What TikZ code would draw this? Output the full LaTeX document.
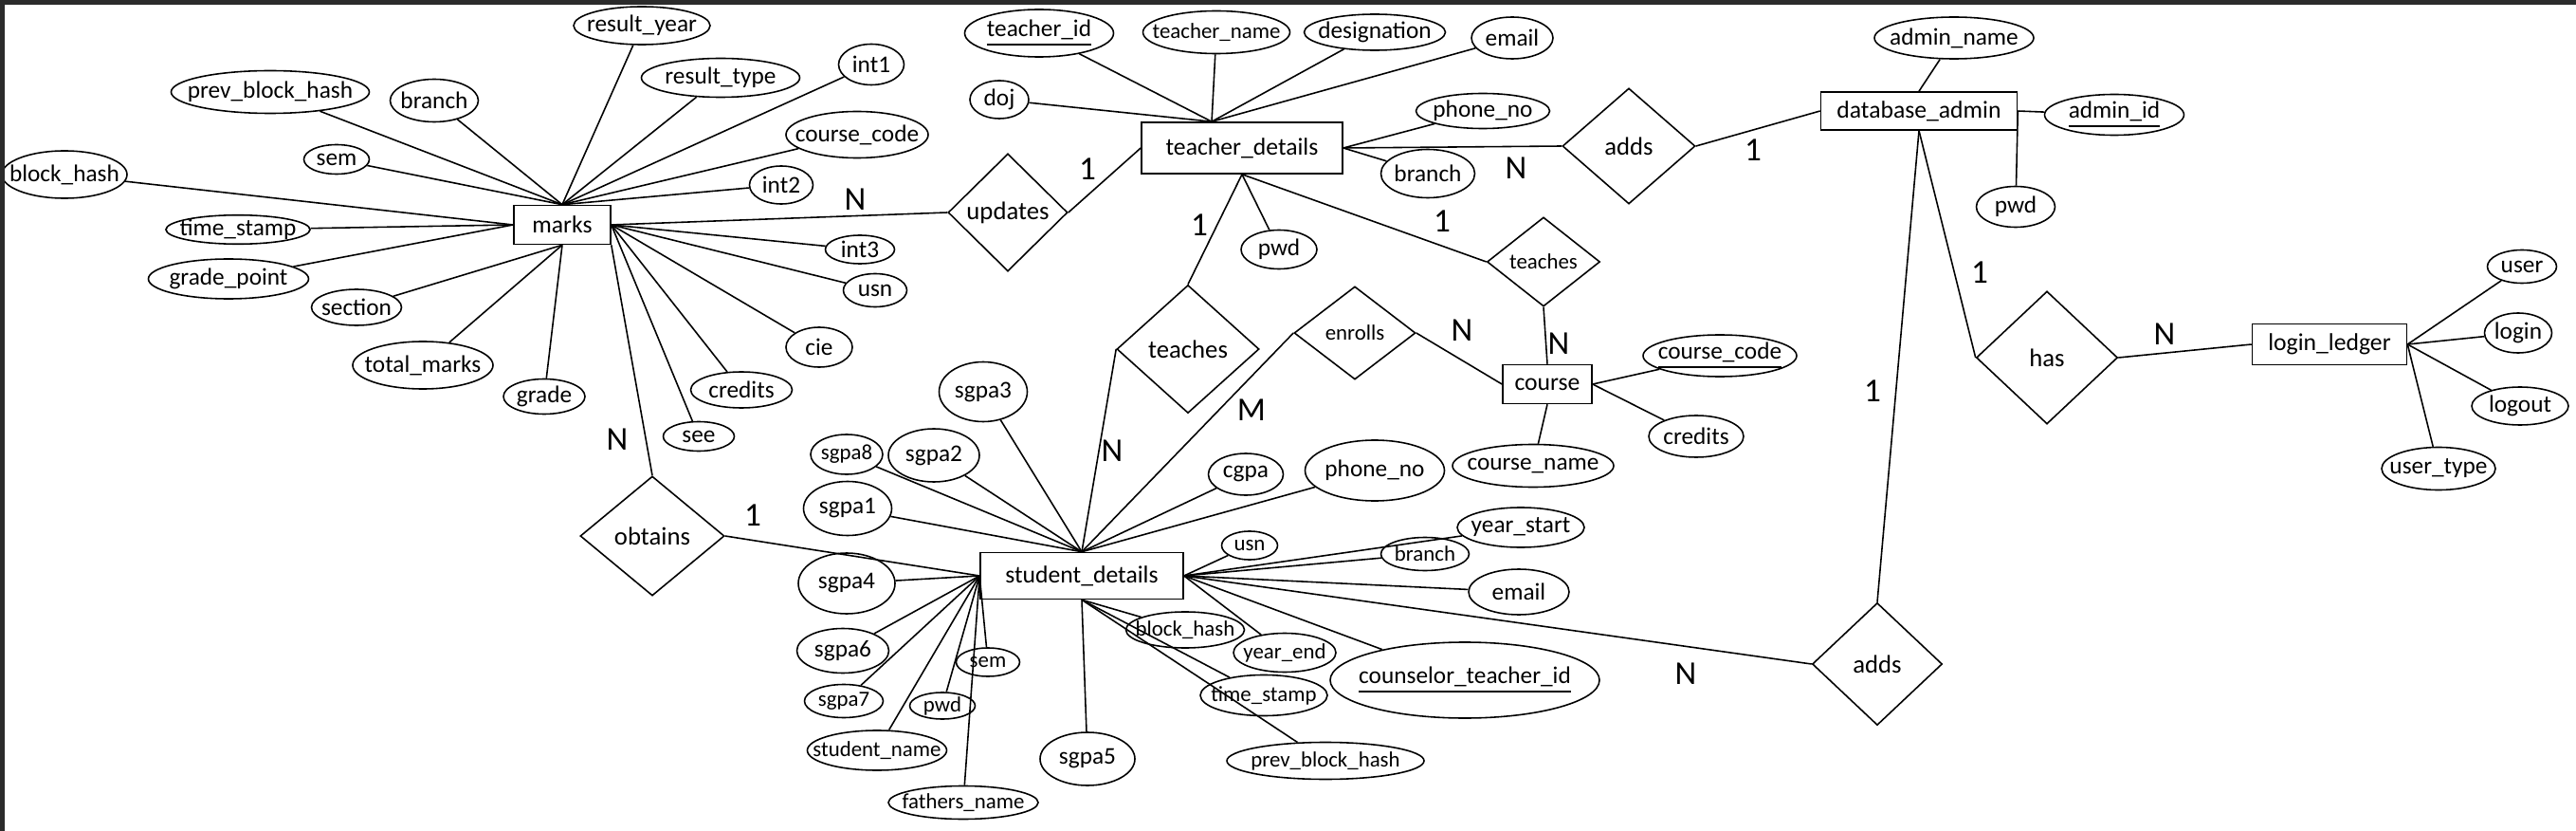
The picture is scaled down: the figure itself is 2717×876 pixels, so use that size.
\documentclass[tikz,border=0pt]{standalone}
\usepackage{fontspec}
\setmainfont{Carlito}
\usetikzlibrary{shapes.geometric}
\tikzset{%
   % entity box, attribute oval, relationship diamond
   ent/.style={
      draw,
      rectangle,
      inner sep=0pt,
      font=\fontsize{7.3}{8}\selectfont
   },
   % the oval keeps its given size, the text may run to its edge
   attr/.style={
      draw,
      ellipse,
      inner sep=0pt,
      font=\fontsize{7.2}{8}\selectfont,
      execute at begin node={\setbox0=\hbox\bgroup},
      execute at end node={\egroup\hbox to 0pt{\hss\box0\hss}}
   },
   rel/.style={
      draw,
      diamond,
      inner sep=0pt,
      font=\fontsize{7.6}{8}\selectfont
   },
   smalltxt/.style={
      font=\fontsize{6.5}{7}\selectfont
   },
   card/.style={
      inner sep=0pt,
      font=\fontsize{10}{12}\selectfont
   },
   sz/.style 2 args={
      minimum width=#1*.01cm,
      minimum height=#2*.01cm
   },
}

\begin{document}
\begin{tikzpicture}[x=.01cm, y=-.01cm, line width=.45pt]
   \useasboundingbox (0,0) rectangle (2717,876);

   % marks
   \node[ent, sz={102}{41}] (mk) at (593,237) {marks};
   \node[attr, sz={144}{40}] (mry) at (677,27) {result\_year};
   \node[attr, sz={209}{45}] (mpbh) at (285,97) {prev\_block\_hash};
   \node[attr, sz={93}{45}] (mbr) at (458,106) {branch};
   \node[attr, sz={167}{41}] (mrt) at (760,82) {result\_type};
   \node[attr, sz={69}{43}] (mi1) at (919,68) {int1};
   \node[attr, sz={150}{49}] (mcc) at (904,142) {course\_code};
   \node[attr, sz={69}{31}] (msem) at (355,168) {sem};
   \node[attr, sz={132}{50}] (mbh) at (68,184) {block\_hash};
   \node[attr, sz={67}{40}] (mi2) at (824,195) {int2};
   \node[attr, sz={152}{30}] (mts) at (251,242) {time\_stamp};
   \node[attr, sz={169}{42}] (mgp) at (241,294) {grade\_point};
   \node[attr, sz={73}{30}] (mi3) at (907,263) {int3};
   \node[attr, sz={95}{38}] (msec) at (376,324) {section};
   \node[attr, sz={67}{35}] (musn) at (923,306) {usn};
   \node[attr, sz={70}{42}] (mcie) at (864,366) {cie};
   \node[attr, sz={148}{50}] (mtm) at (446,385) {total\_marks};
   \node[attr, sz={86}{37}] (mgr) at (574,418) {grade};
   \node[attr, sz={107}{38}] (mcr) at (782,411) {credits};
   \node[attr, sz={75}{31}] (msee) at (737,460) {see};

   % relationships
   \node[rel, sz={126}{124}] (upd) at (1063,224) {updates};
   \node[rel, sz={152}{126}] (obt) at (688,565) {obtains};
   \node[rel, sz={140}{122}] (addt) at (1718,154) {adds};
   \node[rel, sz={150}{135}] (tchl) at (1253,368) {teaches};
   \node[rel, smalltxt, sz={119}{94}] (tchr) at (1628,276) {teaches};
   \node[rel, smalltxt, sz={128}{98}] (enr) at (1429,351) {enrolls};
   \node[rel, sz={149}{140}] (has) at (2159,377) {has};
   \node[rel, sz={137}{129}] (addb) at (1980,700) {adds};

   % teacher_details
   \node[ent, sz={212}{54}] (td) at (1310,156) {teacher\_details};
   \node[attr, sz={157}{50}] (tid) at (1096,35) {\underline{teacher\_id}};
   \node[attr, smalltxt, sz={155}{45}] (tnm) at (1283,34) {teacher\_name};
   \node[attr, sz={149}{38}] (tdes) at (1450,34) {designation};
   \node[attr, sz={86}{44}] (tem) at (1595,40) {email};
   \node[attr, sz={62}{40}] (tdoj) at (1054,105) {doj};
   \node[attr, sz={141}{37}] (tph) at (1564,117) {phone\_no};
   \node[attr, sz={99}{51}] (tbr) at (1506,183) {branch};
   \node[attr, sz={80}{41}] (tpwd) at (1349,263) {pwd};

   % database_admin
   \node[ent, sz={207}{40}] (da) at (2024,117) {database\_admin};
   \node[attr, sz={168}{44}] (anm) at (2061,40) {admin\_name};
   \node[attr, sz={147}{43}] (aid) at (2230,121) {\underline{admin\_id}};
   \node[attr, sz={83}{43}] (apwd) at (2126,218) {pwd};

   % login_ledger
   \node[ent, sz={163}{43}] (ll) at (2457,363) {login\_ledger};
   \node[attr, sz={73}{35}] (lu) at (2660,281) {user};
   \node[attr, sz={71}{42}] (lin) at (2656,351) {login};
   \node[attr, sz={102}{40}] (lout) at (2658,428) {logout};
   \node[attr, sz={120}{45}] (lut) at (2572,494) {user\_type};

   % course
   \node[ent, sz={94}{41}] (co) at (1632,405) {course};
   \node[attr, sz={162}{44}] (ccc) at (1814,375) {\underline{course\_code}};
   \node[attr, sz={100}{44}] (ccr) at (1789,460) {credits};
   \node[attr, sz={170}{45}] (cnm) at (1617,491) {course\_name};

   % student_details
   \node[ent, sz={214}{49}] (sd) at (1141,607) {student\_details};
   \node[attr, sz={93}{63}] (s3) at (1037,413) {sgpa3};
   \node[attr, sz={96}{56}] (s2) at (985,480) {sgpa2};
   \node[attr, smalltxt, sz={76}{42}] (s8) at (893,479) {sgpa8};
   \node[attr, sz={93}{57}] (s1) at (894,536) {sgpa1};
   \node[attr, sz={102}{64}] (s4) at (893,615) {sgpa4};
   \node[attr, sz={97}{47}] (s6) at (889,686) {sgpa6};
   \node[attr, smalltxt, sz={83}{35}] (s7) at (890,739) {sgpa7};
   \node[attr, smalltxt, sz={147}{42}] (snm) at (925,791) {student\_name};
   \node[attr, smalltxt, sz={158}{35}] (sfn) at (1016,846) {fathers\_name};
   \node[attr, smalltxt, sz={69}{28}] (spwd) at (994,744) {pwd};
   \node[attr, smalltxt, sz={67}{30}] (ssem) at (1042,698) {sem};
   \node[attr, sz={100}{56}] (s5) at (1147,800) {sgpa5};
   \node[attr, smalltxt, sz={125}{38}] (sbh) at (1250,664) {block\_hash};
   \node[attr, smalltxt, sz={108}{41}] (sye) at (1355,688) {year\_end};
   \node[attr, smalltxt, sz={134}{43}] (sts) at (1333,733) {time\_stamp};
   \node[attr, smalltxt, sz={208}{39}] (spbh) at (1398,802) {prev\_block\_hash};
   \node[attr, sz={284}{80}] (sct) at (1545,717) {\underline{counselor\_teacher\_id}};
   \node[attr, sz={106}{48}] (sem) at (1602,624) {email};
   \node[attr, smalltxt, sz={93}{35}] (sbr) at (1503,584) {branch};
   \node[attr, sz={134}{42}] (sys) at (1604,556) {year\_start};
   \node[attr, smalltxt, sz={59}{30}] (susn) at (1318,575) {usn};
   \node[attr, sz={79}{44}] (scg) at (1314,500) {cgpa};
   \node[attr, sz={147}{64}] (sph) at (1450,496) {phone\_no};

   % attribute lines
   \foreach \a in {mry,mpbh,mbr,mrt,mi1,mcc,msem,mi2}
      \draw (\a) -- (mk.north);
   \foreach \a in {mbh,mts,mgp}
      \draw (\a) -- (mk.west);
   \foreach \a in {msec,mtm,mgr}
      \draw (\a) -- (mk.south);
   \foreach \a in {mi3,musn,mcie,mcr,msee}
      \draw (\a) -- (mk.east);
   \foreach \a in {tid,tnm,tdes,tem,tdoj}
      \draw (\a) -- (td.139);
   \foreach \a in {tph,tbr}
      \draw (\a) -- (td.east);
   \draw (tpwd) -- (td.south);
   \draw (anm) -- (da.north);
   \foreach \a in {aid,apwd}
      \draw (\a) -- (da.east);
   \foreach \a in {lu,lin,lout,lut}
      \draw (\a) -- (ll.east);
   \foreach \a in {ccc,ccr}
      \draw (\a) -- (co.east);
   \draw (cnm) -- (co.south);
   \foreach \a in {s3,s2,s8,s1,scg,sph}
      \draw (\a) -- (sd.north);
   \foreach \a in {s4,s6,s7,snm,sfn,spwd,ssem}
      \draw (\a) -- (sd.west);
   \foreach \a in {s5,sbh,sts,spbh}
      \draw (\a) -- (sd.south);
   \foreach \a in {sye,sct,sem,sbr,sys,susn}
      \draw (\a) -- (sd.east);

   % relationship lines
   \draw (mk.east) -- (upd.west);
   \draw (upd.east) -- (td.west);
   \draw (mk.south east) -- (obt.north);
   \draw (obt.east) -- (sd.west);
   \draw (td.east) -- (addt.west);
   \draw (addt.east) -- (da.west);
   \draw (td.south) -- (tchl.north);
   \draw (tchl.west) -- (sd.north);
   \draw (td.south) -- (tchr.west);
   \draw (tchr.south) -- (co.north);
   \draw (enr.west) -- (sd.north);
   \draw (enr.east) -- (co.west);
   \draw (da.south) -- (has.west);
   \draw (has.east) -- (ll.west);
   \draw (da.south) -- (addb.north);
   \draw (addb.west) -- (sd.east);

   % cardinalities
   \node[card] (c1) at (902,210) {N};
   \node[card] (c2) at (1147,178) {1};
   \node[card] (c3) at (1599,177) {N};
   \node[card] (c4) at (1849,158) {1};
   \node[card] (c5) at (1265,237) {1};
   \node[card] (c6) at (1173,475) {N};
   \node[card] (c7) at (1521,233) {1};
   \node[card] (c8) at (1644,362) {N};
   \node[card] (c9) at (1542,348) {N};
   \node[card] (c10) at (1320,432) {M};
   \node[card] (c11) at (651,463) {N};
   \node[card] (c12) at (794,543) {1};
   \node[card] (c13) at (2088,287) {1};
   \node[card] (c14) at (2283,352) {N};
   \node[card] (c15) at (1975,412) {1};
   \node[card] (c16) at (1778,710) {N};

   % window edge
   \fill[black!83] (0,0) rectangle (2717,5);
   \fill[black!83] (0,0) rectangle (5,876);
\end{tikzpicture}
\end{document}
